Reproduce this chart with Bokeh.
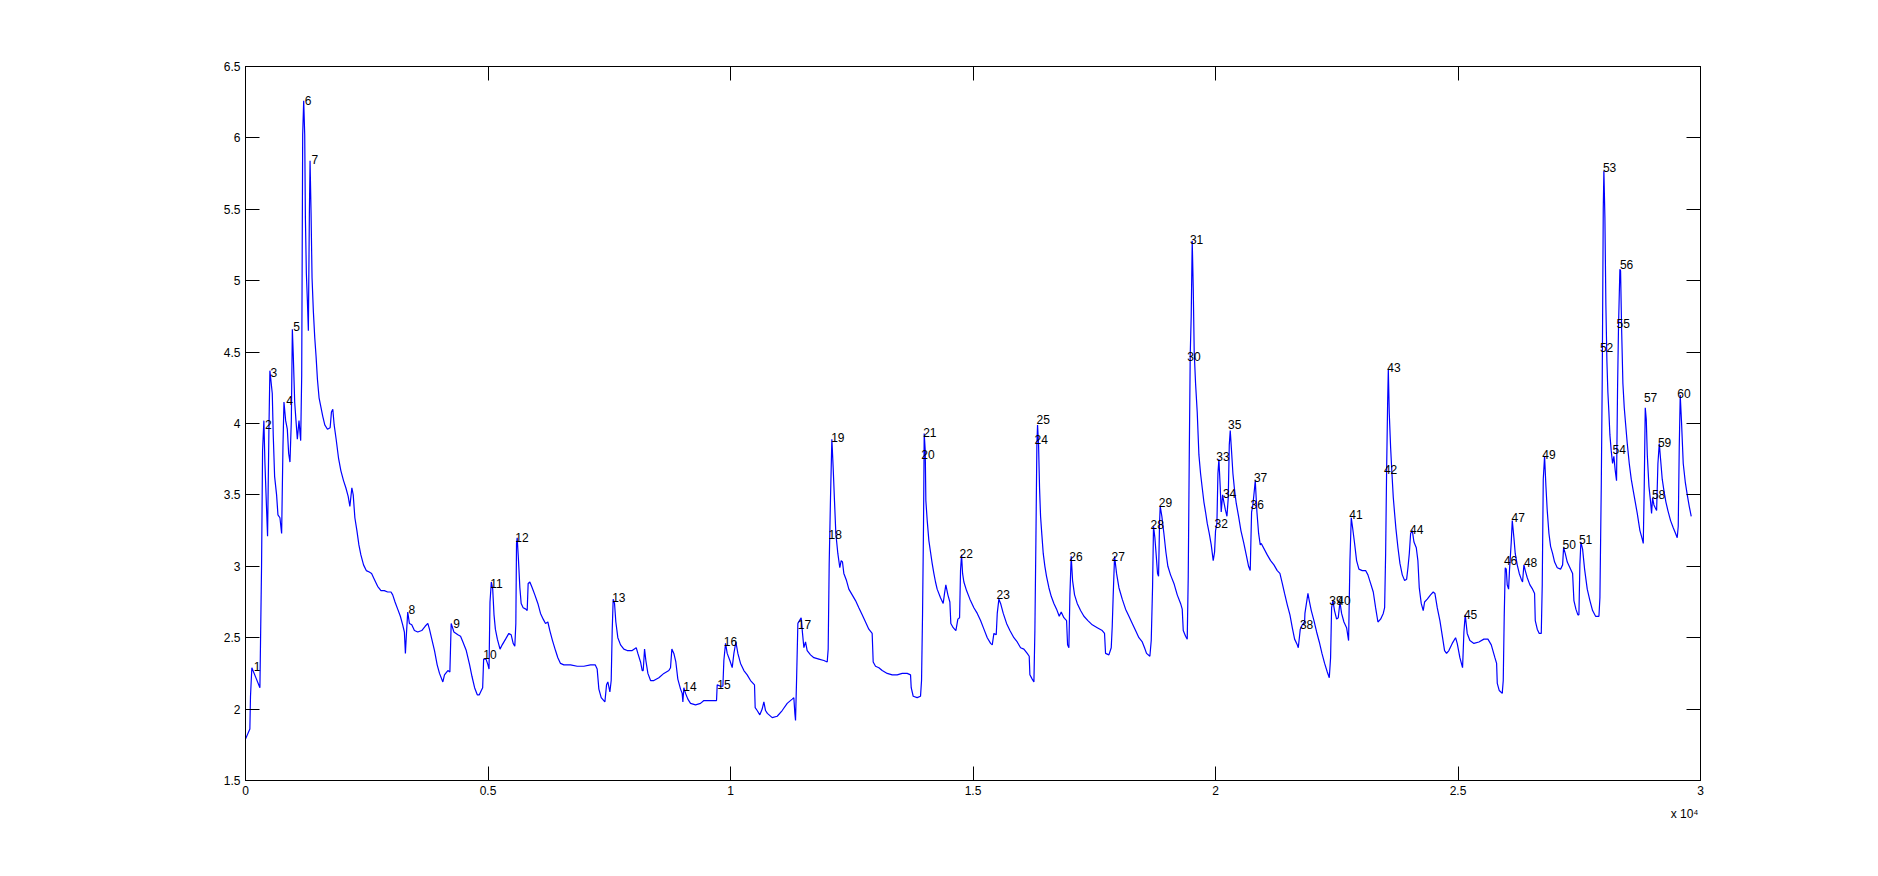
from bokeh.plotting import figure
from bokeh.models import Range1d, FixedTicker, LinearAxis, CustomJSTickFormatter, Title
from bokeh.core.properties import value
from bokeh.embed import file_html
from bokeh.resources import INLINE

# ---- signal trace, in six pieces (sample index, value) ----
seg1 = [(0,1.79),(90,1.86),(103,2.09),(131,2.29),(297,2.15),(331,3.00),(352,3.81),(379,4.02),(400,3.73),(428,3.46),
        (455,3.21),(483,3.96),(503,4.37),(552,4.21),(572,3.92),(600,3.63),(641,3.50),(669,3.36),(710,3.34),(745,3.23),
        (772,3.83),(793,4.15),(828,4.02),(862,3.96),(890,3.79),(917,3.73),(945,4.02),(966,4.66),(986,4.47),(1014,4.15),
        (1041,4.02),(1069,3.89),(1103,4.02),(1138,3.88),(1159,4.34),(1179,6.02),(1200,6.26),(1221,6.02),(1235,5.44),
        (1255,5.05),(1276,4.86),(1296,4.65),(1317,5.47),(1331,5.84),(1352,5.47),(1372,5.02),(1400,4.78),(1428,4.60),
        (1455,4.47),(1483,4.31),(1517,4.18),(1552,4.12),(1593,4.05),(1635,3.99),(1690,3.96),(1745,3.97),(1772,4.08),
        (1800,4.10),(1828,3.99),(1869,3.89),(1917,3.76),(1966,3.67),(2021,3.60),(2069,3.55),(2117,3.49),(2152,3.42),
        (2193,3.55),(2221,3.50),(2255,3.34),(2297,3.25),(2338,3.15),(2379,3.08),(2434,3.01),(2490,2.97),(2552,2.96),
        (2600,2.95),(2655,2.91),(2724,2.86),(2793,2.83),(2862,2.83),(2931,2.82),(3000,2.82),(3035,2.80),(3083,2.75),
        (3138,2.70),(3193,2.65),(3241,2.59),(3276,2.54),(3297,2.39),(3317,2.52),(3345,2.68),(3379,2.60),(3428,2.59),
        (3483,2.55),(3552,2.54),(3634,2.55),(3704,2.58),(3759,2.60),(3793,2.56),(3841,2.49),(3897,2.41),(3952,2.31),
        (4000,2.25),(4069,2.19),(4103,2.24),(4172,2.27),(4214,2.26),(4241,2.60),(4297,2.54),(4379,2.52),(4434,2.51),
        (4483,2.47),(4552,2.41),(4621,2.31),(4669,2.23),(4724,2.15),(4779,2.10),(4821,2.10),(4862,2.13),(4890,2.15),
        (4910,2.35),(4959,2.35),(5000,2.31),(5021,2.28),(5041,2.75),(5069,2.89),(5097,2.84),(5124,2.66),(5152,2.56),
        (5193,2.49),(5248,2.42)]
seg2 = [(5293,2.45),(5362,2.49),(5430,2.53),(5478,2.52),(5519,2.46),(5553,2.44),(5574,2.60),(5588,3.16),(5602,3.20),
        (5629,3.04),(5657,2.85),(5684,2.74),(5725,2.71),(5780,2.70),(5808,2.69),(5828,2.88),(5863,2.89),(5911,2.85),
        (5966,2.80),(6028,2.74),(6083,2.67),(6138,2.63),(6186,2.60),(6234,2.61),(6275,2.55),(6330,2.48),(6392,2.41),
        (6440,2.36),(6495,2.32),(6564,2.31),(6702,2.31),(6839,2.30),(6976,2.30),(7114,2.31),(7210,2.31),(7251,2.28),
        (7286,2.14),(7334,2.08),(7410,2.05),(7444,2.17),(7471,2.19),(7513,2.12),(7540,2.20),(7561,2.55),(7581,2.77),
        (7609,2.74),(7636,2.61),(7677,2.50),(7733,2.45),(7801,2.42),(7870,2.41),(7973,2.41),(8056,2.43),(8090,2.39),
        (8145,2.33),(8180,2.27),(8200,2.27),(8228,2.42),(8255,2.34),(8297,2.25),(8352,2.20),(8420,2.20),(8523,2.22),
        (8626,2.25),(8729,2.27),(8763,2.29),(8791,2.42),(8832,2.39),(8873,2.33),(8914,2.21),(8970,2.14),(9004,2.11),
        (9018,2.05),(9038,2.15),(9073,2.11),(9121,2.07),(9176,2.04),(9279,2.03),(9382,2.04),(9451,2.06),(9589,2.06),
        (9712,2.06),(9726,2.17),(9795,2.16),(9843,2.16),(9863,2.34),(9898,2.46),(9932,2.39),(9987,2.34),(10035,2.29),
        (10070,2.39),(10111,2.47),(10152,2.39),(10207,2.32),(10276,2.27),(10344,2.24),(10413,2.20),(10495,2.17),
        (10509,2.01),(10550,1.99),(10605,1.96),(10653,2.00),(10688,2.05)]
seg3 = [(10722,1.99),(10760,1.97),(10860,1.94),(10963,1.95),(11066,1.99),(11169,2.04),(11272,2.07),(11306,2.08),
        (11327,1.97),(11341,1.92),(11362,2.20),(11389,2.60),(11423,2.62),(11457,2.64),(11485,2.53),(11513,2.43),
        (11547,2.47),(11581,2.41),(11650,2.38),(11719,2.36),(11822,2.35),(11925,2.34),(11994,2.33),(12014,2.42),
        (12035,3.02),(12062,3.48),(12090,3.89),(12117,3.69),(12144,3.46),(12172,3.23),(12213,3.09),(12254,2.99),
        (12282,3.04),(12309,3.03),(12337,2.95),(12392,2.90),(12440,2.84),(12509,2.80),(12578,2.76),(12646,2.71),
        (12715,2.66),(12784,2.61),(12852,2.56),(12921,2.53),(12942,2.33),(12990,2.30),(13059,2.29),(13128,2.27),
        (13231,2.25),(13334,2.24),(13437,2.24),(13540,2.25),(13643,2.25),(13712,2.24),(13726,2.15),(13767,2.09),
        (13849,2.08),(13918,2.09),(13939,2.20),(13960,2.67),(13980,3.30),(13994,3.93),(14015,3.81),(14028,3.46),
        (14056,3.32),(14090,3.18),(14124,3.10),(14158,3.02),(14193,2.95),(14227,2.89),(14261,2.84),(14330,2.78),
        (14385,2.74),(14413,2.81),(14440,2.87),(14482,2.80),(14523,2.75),(14543,2.60),(14592,2.57),(14647,2.55),
        (14688,2.63),(14723,2.64),(14743,2.97),(14764,3.08),(14785,2.95),(14812,2.89),(14867,2.83),(14936,2.77),
        (15018,2.71),(15088,2.67),(15156,2.62),(15225,2.56),(15294,2.50),(15363,2.46),(15397,2.45),(15431,2.53),
        (15479,2.52),(15500,2.67),(15534,2.77),(15569,2.74),(15624,2.67),(15692,2.60),(15761,2.55),(15843,2.50)]
seg4 = [(15912,2.47),(15981,2.43),(16049,2.42),(16118,2.39),(16159,2.37),(16173,2.24),(16221,2.21),(16256,2.19),
        (16276,2.55),(16297,3.18),(16317,3.85),(16331,3.99),(16352,3.85),(16372,3.55),(16393,3.35),(16420,3.22),
        (16448,3.09),(16482,3.00),(16516,2.93),(16565,2.85),(16613,2.79),(16668,2.74),(16723,2.70),(16778,2.65),
        (16819,2.68),(16874,2.64),(16929,2.62),(16950,2.45),(16977,2.43),(16998,2.80),(17025,3.07),(17053,2.90),
        (17094,2.80),(17149,2.74),(17218,2.69),(17287,2.65),(17369,2.62),(17459,2.59),(17562,2.57),(17665,2.55),
        (17712,2.53),(17733,2.39),(17802,2.38),(17850,2.43),(17871,2.58),(17891,2.80),(17919,3.07),(17960,2.95),
        (18009,2.85),(18077,2.77),(18146,2.70),(18215,2.65),(18284,2.60),(18352,2.55),(18421,2.50),(18490,2.47),
        (18537,2.43),(18578,2.39),(18647,2.37),(18675,2.48),(18702,2.85),(18722,3.28),(18750,3.20),(18777,3.08),
        (18805,2.95),(18826,2.93),(18846,3.30),(18860,3.42),(18894,3.35),(18936,3.23),(18977,3.10),(19018,3.00),
        (19073,2.94),(19143,2.88),(19211,2.80),(19280,2.74),(19314,2.70),(19335,2.55),(19383,2.51),(19417,2.49),
        (19438,2.93),(19458,3.73),(19479,4.48),(19499,4.75),(19520,5.28),(19541,4.95),(19561,4.50),(19589,4.28),
        (19623,4.08),(19658,3.78),(19692,3.65),(19726,3.55),(19761,3.45),(19795,3.38),(19830,3.30),(19871,3.23),
        (19912,3.15),(19953,3.04),(19981,3.10),(20001,3.25),(20029,3.30),(20050,3.65),(20070,3.75),(20098,3.55),
        (20118,3.38),(20146,3.50),(20173,3.45),(20201,3.40),(20236,3.35),(20263,3.48),(20284,3.85),(20304,3.95),
        (20332,3.80),(20359,3.65),(20394,3.53),(20428,3.44),(20476,3.35),(20524,3.25),(20579,3.17),(20634,3.08),
        (20682,3.00),(20716,2.97),(20744,3.38),(20771,3.43),(20806,3.55),(20820,3.60),(20854,3.38),(20889,3.23),
        (20923,3.15)]
seg5 = [(20944,3.16),(21067,3.08),(21136,3.04),(21205,3.01),(21273,2.97),(21328,2.95),(21377,2.88),(21424,2.81),
        (21480,2.73),(21535,2.66),(21583,2.57),(21631,2.49),(21686,2.45),(21707,2.43),(21748,2.56),(21789,2.59),
        (21837,2.61),(21844,2.67),(21906,2.81),(21933,2.76),(21975,2.69),(22030,2.62),(22085,2.54),(22140,2.47),
        (22195,2.39),(22250,2.32),(22305,2.26),(22346,2.22),(22373,2.36),(22394,2.71),(22421,2.76),(22454,2.69),
        (22497,2.63),(22531,2.64),(22566,2.75),(22600,2.67),(22648,2.61),(22703,2.57),(22744,2.48),(22772,3.04),
        (22799,3.34),(22827,3.27),(22868,3.16),(22909,3.04),(22957,2.98),(23026,2.97),(23095,2.97),(23143,2.94),
        (23198,2.88),(23253,2.82),(23301,2.71),(23349,2.61),(23404,2.63),(23459,2.67),(23487,2.71),(23508,3.09),
        (23528,3.67),(23549,4.14),(23563,4.38),(23583,4.07),(23611,3.83),(23638,3.65),(23666,3.48),(23693,3.37),
        (23721,3.26),(23762,3.13),(23803,3.02),(23851,2.94),(23899,2.90),(23941,2.91),(23968,2.99),(23996,3.09),
        (24023,3.23),(24058,3.25),(24092,3.17),(24140,3.13),(24173,3.04),(24201,2.85),(24242,2.74),(24283,2.69),
        (24311,2.75),(24366,2.77),(24434,2.80),(24489,2.82),(24524,2.81),(24572,2.71),(24627,2.62),(24682,2.50),
        (24723,2.41),(24764,2.39),(24812,2.41),(24881,2.46),(24950,2.50),(24984,2.46),(25039,2.36),(25094,2.29),
        (25122,2.54),(25149,2.66),(25190,2.53),(25245,2.48),(25328,2.46),(25431,2.47),(25534,2.49),(25617,2.49),
        (25686,2.45),(25761,2.36),(25796,2.32),(25810,2.18),(25851,2.13)]
seg6 = [(25912,2.11),(25933,2.20),(25953,2.65),(25974,2.99),(25995,2.98),(26015,2.87),(26043,2.84),(26063,2.98),
        (26098,3.17),(26119,3.32),(26153,3.20),(26180,3.09),(26221,3.01),(26263,2.95),(26304,2.91),(26331,2.89),
        (26359,3.01),(26387,2.97),(26428,2.92),(26483,2.87),(26538,2.84),(26579,2.81),(26593,2.62),(26634,2.56),
        (26675,2.53),(26717,2.53),(26737,2.87),(26758,3.61),(26785,3.77),(26813,3.56),(26840,3.39),(26875,3.23),
        (26909,3.14),(26950,3.09),(26992,3.03),(27047,2.99),(27115,2.98),(27157,3.01),(27177,3.13),(27211,3.09),
        (27253,3.03),(27308,2.99),(27363,2.95),(27390,2.76),(27431,2.70),(27472,2.66),(27493,2.66),(27513,3.01),
        (27534,3.17),(27569,3.12),(27610,2.98),(27665,2.84),(27720,2.76),(27775,2.69),(27837,2.65),(27906,2.65),
        (27926,2.78),(27954,3.56),(27974,4.31),(27995,5.50),(28008,5.77),(28029,5.44),(28049,4.83),(28070,4.44),
        (28090,4.22),(28111,4.08),(28132,3.92),(28159,3.81),(28187,3.72),(28214,3.77),(28242,3.67),(28269,3.60),
        (28290,4.25),(28310,4.69),(28338,5.08),(28352,5.07),(28373,4.67),(28400,4.28),(28428,4.11),(28455,4.00),
        (28490,3.86),(28531,3.72),(28572,3.61),(28613,3.53),(28655,3.45),(28696,3.37),(28751,3.25),(28799,3.19),
        (28820,3.16),(28840,3.56),(28861,4.11),(28882,4.03),(28903,3.78),(28937,3.56),(28971,3.45),(28991,3.37),
        (29012,3.48),(29040,3.43),(29067,3.41),(29095,3.39),(29122,3.72),(29150,3.86),(29177,3.75),(29211,3.61),
        (29246,3.53),(29287,3.45),(29328,3.39),(29383,3.32),(29438,3.27),(29486,3.23),(29520,3.20),(29541,3.28),
        (29562,3.84),(29582,4.20),(29610,4.00),(29644,3.72),(29686,3.59),(29727,3.50),(29768,3.42),(29809,3.35)]

# ---- numbered peak markers ----
peak_x = [172, 400, 517, 841, 986, 1221, 1359, 3359, 4283, 4903,
          5048, 5561, 7560, 9025, 9726, 9863, 11389, 12021, 12076, 13932,
          13973, 14723, 15486, 16269, 16310, 16984, 17857, 18661, 18832, 19417,
          19472, 19981, 20015, 20153, 20257, 20723, 20792, 21740, 22345, 22510,
          22758, 23473, 23542, 24010, 25122, 25947, 26105, 26359, 26737, 27157,
          27493, 27926, 27988, 28187, 28269, 28338, 28833, 28998, 29122, 29521]
peak_y = [2.30, 3.99, 4.36, 4.16, 4.68, 6.26, 5.85, 2.70, 2.60, 2.38,
          2.88, 3.20, 2.78, 2.16, 2.17, 2.47, 2.59, 3.22, 3.90, 3.78,
          3.94, 3.09, 2.80, 3.89, 4.03, 3.07, 3.07, 3.29, 3.45, 4.47,
          5.29, 3.30, 3.77, 3.51, 3.99, 3.43, 3.62, 2.59, 2.76, 2.76,
          3.36, 3.68, 4.39, 3.26, 2.66, 3.04, 3.34, 3.03, 3.78, 3.15,
          3.19, 4.53, 5.79, 3.82, 4.70, 5.11, 4.18, 3.50, 3.87, 4.21]
peak_labels = [str(i) for i in range(1, 61)]

x_ticks = [0, 5000, 10000, 15000, 20000, 25000, 30000]
y_ticks = [1.5, 2, 2.5, 3, 3.5, 4, 4.5, 5, 5.5, 6, 6.5]
x_exponent_text = "x 10\u2074"

xs, ys = [], []
for seg in (seg1, seg2, seg3, seg4, seg5, seg6):
    for a, b in seg:
        xs.append(a)
        ys.append(b)

FONT = "Liberation Sans"

p = figure(width=1862, height=860, x_range=Range1d(0, 30000), y_range=Range1d(1.5, 6.5),
           output_backend="svg", toolbar_location=None,
           min_border_left=245, min_border_right=162, min_border_top=66, min_border_bottom=80)
p.background_fill_color = "white"
p.border_fill_color = "white"
p.outline_line_color = "black"
p.outline_line_width = 1
p.xgrid.visible = False
p.ygrid.visible = False

xfmt = CustomJSTickFormatter(code="return (tick/10000).toString();")
yfmt = CustomJSTickFormatter(code="return tick.toString();")

def style(ax, ticks, fmt, show_labels=True):
    ax.ticker = FixedTicker(ticks=ticks)
    ax.formatter = fmt
    ax.major_tick_in = 14
    ax.major_tick_out = 0
    ax.minor_tick_line_color = None
    ax.axis_line_color = "black"
    ax.major_tick_line_color = "black"
    ax.major_label_text_font = FONT
    ax.major_label_text_font_size = "12px"
    ax.major_label_text_color = "black"
    ax.major_label_standoff = 5
    if not show_labels:
        ax.major_label_text_alpha = 0

style(p.xaxis[0], x_ticks, xfmt)
style(p.yaxis[0], y_ticks, yfmt)
top = LinearAxis()
style(top, x_ticks, CustomJSTickFormatter(code="return '';"), show_labels=False)
right = LinearAxis()
style(right, y_ticks, CustomJSTickFormatter(code="return '';"), show_labels=False)
p.add_layout(top, "above")
p.add_layout(right, "right")

p.line(xs, ys, line_color="#0000ff", line_width=1.2)

p.text(x=peak_x, y=peak_y, text=peak_labels, text_align="left", text_baseline="middle",
       text_font=value(FONT), text_font_size="12px", text_color="black")

p.add_layout(Title(text=x_exponent_text, align="right", text_font=FONT, text_font_size="12px",
                   text_font_style="normal", text_color="black", standoff=15, offset=2), "below")

open("out.html", "w").write(file_html(p, INLINE))
